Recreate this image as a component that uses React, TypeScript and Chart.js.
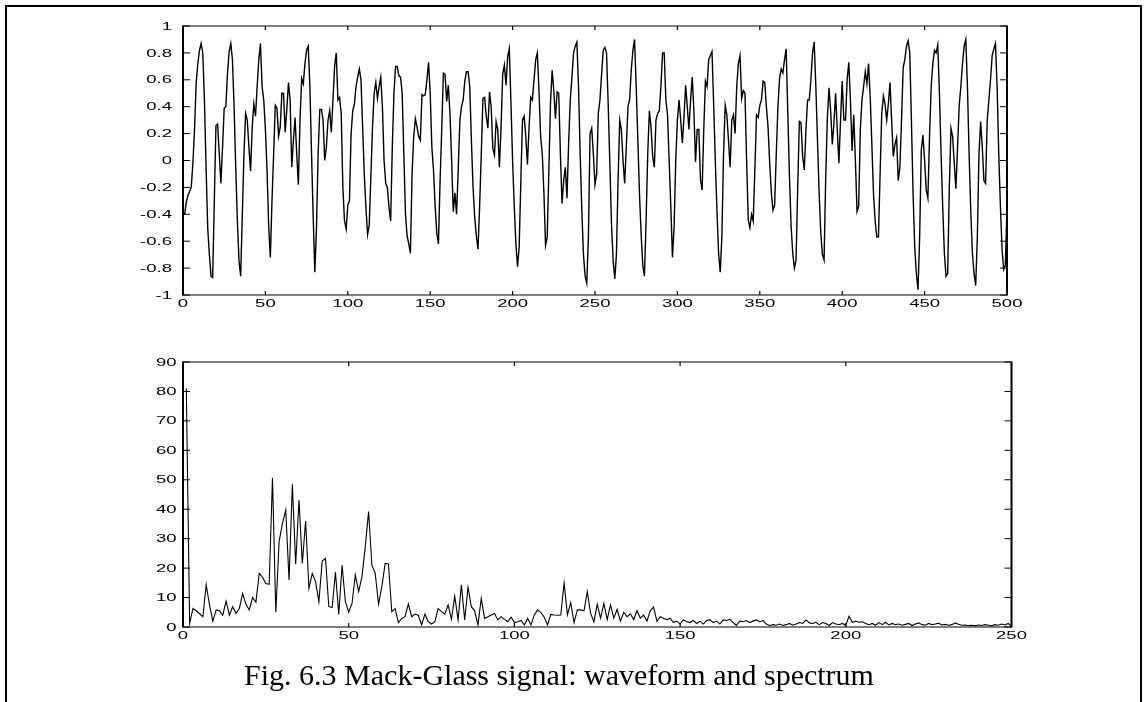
import React, { useEffect, useRef } from "react";
import { Chart, registerables } from "chart.js";

Chart.register(...registerables);

// Mackey-Glass time series, samples 1..500
const waveform: number[] = [
  -0.40, -0.31, -0.26, -0.23, -0.20, -0.02, 0.23, 0.58, 0.72, 0.82,
  0.87, 0.80, 0.45, -0.05, -0.50, -0.70, -0.86, -0.87, -0.30, 0.26,
  0.27, 0.05, -0.17, 0.10, 0.39, 0.40, 0.65, 0.81, 0.87, 0.75,
  0.40, -0.05, -0.45, -0.75, -0.86, -0.40, 0.05, 0.35, 0.30, 0.10,
  -0.08, 0.25, 0.42, 0.33, 0.55, 0.75, 0.87, 0.55, 0.45, 0.23,
  -0.07, -0.49, -0.72, -0.30, 0.05, 0.41, 0.39, 0.18, 0.25, 0.50,
  0.50, 0.21, 0.38, 0.58, 0.45, -0.05, 0.15, 0.32, 0.05, -0.18,
  0.30, 0.61, 0.57, 0.72, 0.82, 0.85, 0.55, 0.05, -0.42, -0.83,
  -0.50, 0.05, 0.38, 0.38, 0.30, 0.00, 0.10, 0.30, 0.37, 0.21,
  0.45, 0.70, 0.80, 0.45, 0.47, 0.35, -0.20, -0.45, -0.51, -0.33,
  -0.30, 0.20, 0.37, 0.42, 0.55, 0.62, 0.68, 0.60, 0.25, -0.10,
  -0.35, -0.55, -0.48, -0.12, 0.25, 0.50, 0.58, 0.46, 0.55, 0.62,
  0.40, 0.00, -0.17, -0.20, -0.35, -0.45, 0.10, 0.50, 0.70, 0.70,
  0.63, 0.62, 0.50, 0.05, -0.40, -0.56, -0.62, -0.69, -0.10, 0.18,
  0.31, 0.25, 0.18, 0.15, 0.49, 0.48, 0.49, 0.60, 0.73, 0.50,
  0.10, -0.07, -0.34, -0.54, -0.62, -0.15, 0.23, 0.65, 0.64, 0.44,
  0.56, 0.35, 0.00, -0.38, -0.24, -0.40, -0.07, 0.30, 0.40, 0.45,
  0.59, 0.66, 0.66, 0.55, 0.15, -0.20, -0.42, -0.56, -0.66, -0.34,
  0.05, 0.46, 0.47, 0.33, 0.24, 0.51, 0.40, 0.09, 0.04, 0.29,
  0.23, -0.05, 0.25, 0.64, 0.71, 0.56, 0.77, 0.83, 0.43, 0.00,
  -0.34, -0.62, -0.79, -0.64, -0.15, 0.30, 0.33, 0.18, -0.03, 0.25,
  0.47, 0.45, 0.60, 0.75, 0.80, 0.52, 0.18, 0.05, -0.24, -0.63,
  -0.57, -0.07, 0.43, 0.67, 0.52, 0.31, 0.51, 0.50, 0.05, -0.32,
  -0.15, -0.05, -0.28, 0.13, 0.45, 0.62, 0.80, 0.85, 0.88, 0.55,
  0.05, -0.37, -0.70, -0.86, -0.91, -0.57, 0.20, 0.24, 0.05, -0.18,
  -0.10, 0.35, 0.45, 0.64, 0.82, 0.84, 0.80, 0.42, -0.02, -0.47,
  -0.74, -0.88, -0.70, -0.15, 0.30, 0.23, 0.00, -0.17, 0.10, 0.40,
  0.45, 0.67, 0.82, 0.90, 0.55, 0.15, -0.25, -0.55, -0.78, -0.86,
  -0.45, 0.05, 0.37, 0.25, 0.03, -0.05, 0.30, 0.35, 0.37, 0.55,
  0.80, 0.80, 0.45, 0.34, 0.00, -0.34, -0.72, -0.49, 0.00, 0.30,
  0.45, 0.30, 0.13, 0.32, 0.56, 0.40, 0.23, 0.45, 0.62, 0.37,
  -0.01, 0.23, 0.23, -0.14, -0.22, 0.23, 0.59, 0.55, 0.75, 0.78,
  0.81, 0.42, 0.00, -0.37, -0.69, -0.83, -0.56, 0.05, 0.41, 0.34,
  0.15, -0.05, 0.30, 0.34, 0.20, 0.55, 0.72, 0.78, 0.46, 0.52,
  0.50, 0.00, -0.44, -0.50, -0.40, -0.45, -0.07, 0.34, 0.32, 0.41,
  0.45, 0.59, 0.58, 0.40, 0.25, -0.02, -0.24, -0.37, -0.33, 0.05,
  0.40, 0.61, 0.68, 0.65, 0.75, 0.83, 0.35, -0.12, -0.49, -0.69,
  -0.80, -0.74, -0.20, 0.29, 0.28, 0.03, -0.07, 0.23, 0.45, 0.45,
  0.60, 0.80, 0.88, 0.55, 0.15, -0.24, -0.54, -0.70, -0.74, -0.12,
  0.32, 0.54, 0.37, 0.12, 0.28, 0.50, 0.23, -0.02, 0.30, 0.59,
  0.30, 0.30, 0.60, 0.73, 0.45, 0.07, 0.34, 0.00, -0.38, -0.34,
  0.23, 0.45, 0.55, 0.66, 0.57, 0.72, 0.47, 0.12, -0.25, -0.45,
  -0.57, -0.57, -0.10, 0.35, 0.48, 0.42, 0.30, 0.42, 0.58, 0.30,
  0.03, 0.12, 0.17, -0.15, -0.05, 0.30, 0.69, 0.75, 0.85, 0.89,
  0.80, 0.30, -0.24, -0.64, -0.84, -0.96, -0.57, 0.08, 0.19, 0.00,
  -0.22, -0.28, 0.18, 0.55, 0.72, 0.82, 0.80, 0.86, 0.50, 0.05,
  -0.35, -0.69, -0.86, -0.84, -0.20, 0.24, 0.18, -0.02, -0.21, 0.10,
  0.41, 0.55, 0.72, 0.85, 0.90, 0.55, 0.05, -0.37, -0.69, -0.84,
  -0.93, -0.57, 0.05, 0.29, 0.10, -0.15, -0.17, 0.30, 0.45, 0.60,
  0.78, 0.83, 0.87, 0.55, 0.05, -0.34, -0.66, -0.81, -0.78, -0.35,
];

// Magnitude spectrum, bins 1..250
const spectrum: number[] = [
  81, 1.2, 6.3, 5.5, 4.5, 3.5, 14.3, 7.5, 2.0, 5.8,
  5.5, 4.0, 8.8, 4.0, 6.9, 4.6, 6.3, 11.4, 7.7, 5.8,
  10.0, 8.4, 18.2, 16.9, 14.8, 14.5, 50.7, 5.0, 29.0, 35.2,
  39.7, 16.0, 48.5, 21.3, 43.1, 21.6, 36.0, 13.1, 18.2, 15.4,
  8.6, 22.4, 23.3, 6.9, 6.6, 18.6, 4.3, 21.0, 8.6, 5.0,
  8.0, 17.7, 12.0, 17.1, 27.3, 39.2, 21.0, 18.2, 7.8, 13.7,
  21.6, 21.4, 5.2, 6.3, 1.5, 2.9, 3.5, 7.8, 3.5, 4.4,
  4.0, 0.7, 4.4, 1.8, 1.0, 1.8, 6.3, 5.2, 4.4, 7.5,
  2.6, 10.5, 2.4, 14.3, 2.4, 13.5, 6.9, 5.5, 0.7, 9.7,
  2.9, 3.5, 4.1, 4.6, 2.4, 3.5, 2.6, 1.8, 3.3, 1.5,
  1.8, 2.2, 0.7, 2.9, 0.7, 4.1, 5.8, 4.9, 3.3, 0.7,
  4.3, 4.1, 4.0, 4.1, 15.0, 4.1, 8.3, 1.5, 5.8, 5.8,
  5.5, 12.0, 4.6, 1.8, 7.7, 3.0, 8.0, 2.5, 7.5, 3.0,
  6.0, 2.0, 5.0, 3.5, 4.5, 2.5, 5.5, 3.0, 4.0, 2.0,
  5.5, 6.8, 2.0, 3.5, 3.0, 2.5, 3.0, 1.5, 2.0, 1.0,
  2.5, 1.8, 1.5, 2.2, 1.2, 2.0, 1.0, 2.2, 2.5, 1.5,
  2.0, 1.0, 2.4, 2.2, 2.6, 1.5, 0.5, 2.0, 1.8, 2.2,
  1.5, 2.0, 2.4, 1.8, 2.2, 1.0, 0.5, 0.8, 0.6, 1.0,
  0.5, 0.8, 1.2, 0.6, 1.0, 1.5, 1.2, 2.4, 1.4, 1.2,
  1.6, 0.8, 1.5, 1.2, 0.5, 1.5, 1.0, 0.8, 1.2, 0.5,
  3.7, 1.5, 2.0, 1.6, 1.8, 1.2, 0.8, 1.2, 0.6, 1.5,
  0.8, 1.6, 0.7, 1.2, 0.8, 1.0, 0.6, 0.9, 1.2, 0.5,
  1.0, 1.4, 0.8, 0.6, 1.2, 0.8, 1.0, 1.3, 0.7, 0.9,
  0.6, 0.8, 1.4, 0.9, 0.6, 0.7, 0.5, 0.6, 0.4, 0.7,
  0.5, 0.8, 0.6, 0.4, 0.8, 0.6, 1.0, 0.7, 1.2, 0.3,
];

const waveTicksX: number[] = [0, 50, 100, 150, 200, 250, 300, 350, 400, 450, 500];
const waveTicksY: number[] = [-1, -0.8, -0.6, -0.4, -0.2, 0, 0.2, 0.4, 0.6, 0.8, 1];
const specTicksX: number[] = [0, 50, 100, 150, 200, 250];
const specTicksY: number[] = [0, 10, 20, 30, 40, 50, 60, 70, 80, 90];

const caption = "Fig. 6.3 Mack-Glass signal: waveform and spectrum";

const LABEL_FONT = '10px "Liberation Sans", Arial, Helvetica, sans-serif';
const LABEL_STRETCH = 1.85;

type AxisStyle = {
  xTicks: number[];
  yTicks: number[];
  yLabelGap: number;
  xLabelDrop: number;
};

const fmt = (v: number) => String(Math.round(v * 10) / 10);

function stretchedText(ctx: CanvasRenderingContext2D, text: string, x: number, y: number, align: CanvasTextAlign) {
  ctx.save();
  ctx.translate(x, y);
  ctx.scale(LABEL_STRETCH, 1);
  ctx.textAlign = align;
  ctx.textBaseline = "alphabetic";
  ctx.fillText(text, 0, 0);
  ctx.restore();
}

// Boxed axes with inward ticks on all four sides
function boxedAxes(style: AxisStyle) {
  return {
    id: "boxedAxes",
    afterDatasetsDraw(chart: any) {
      const { ctx, chartArea: a } = chart;
      const xs = chart.scales.x;
      const ys = chart.scales.y;
      ctx.save();
      ctx.strokeStyle = "#000";
      ctx.lineCap = "butt";

      ctx.lineWidth = 2;
      ctx.beginPath();
      ctx.moveTo(a.left, a.top - 0.6);
      ctx.lineTo(a.left, a.bottom + 0.6);
      ctx.moveTo(a.right, a.top - 0.6);
      ctx.lineTo(a.right, a.bottom + 0.6);
      ctx.stroke();

      ctx.lineWidth = 1.2;
      ctx.beginPath();
      ctx.moveTo(a.left, a.top);
      ctx.lineTo(a.right, a.top);
      ctx.moveTo(a.left, a.bottom);
      ctx.lineTo(a.right, a.bottom);
      for (const v of style.xTicks) {
        const px = xs.getPixelForValue(v);
        ctx.moveTo(px, a.bottom);
        ctx.lineTo(px, a.bottom - 4);
        ctx.moveTo(px, a.top);
        ctx.lineTo(px, a.top + 4);
      }
      ctx.stroke();

      ctx.lineWidth = 1;
      ctx.beginPath();
      for (const v of style.yTicks) {
        const py = ys.getPixelForValue(v);
        ctx.moveTo(a.left, py);
        ctx.lineTo(a.left + 7, py);
        ctx.moveTo(a.right, py);
        ctx.lineTo(a.right - 7, py);
      }
      ctx.stroke();

      ctx.fillStyle = "#000";
      ctx.font = LABEL_FONT;
      for (const v of style.xTicks) {
        stretchedText(ctx, fmt(v), xs.getPixelForValue(v), a.bottom + style.xLabelDrop, "center");
      }
      for (const v of style.yTicks) {
        stretchedText(ctx, fmt(v), a.left - style.yLabelGap, ys.getPixelForValue(v) + 3.6, "right");
      }
      ctx.restore();
    },
  };
}

function LinePanel(props: {
  width: number;
  height: number;
  top: number;
  values: number[];
  xMin: number;
  xMax: number;
  yMin: number;
  yMax: number;
  padding: { left: number; top: number; right: number; bottom: number };
  lineWidth: number;
  style: AxisStyle;
}) {
  const ref = useRef<HTMLCanvasElement | null>(null);
  useEffect(() => {
    if (!ref.current) return;
    const chart = new Chart(ref.current, {
      type: "line",
      data: {
        datasets: [
          {
            data: props.values.map((v, i) => ({ x: i + 1, y: v })),
            borderColor: "#000",
            borderWidth: props.lineWidth,
            pointRadius: 0,
            tension: 0,
            fill: false,
          },
        ],
      },
      options: {
        animation: false,
        responsive: false,
        maintainAspectRatio: false,
        events: [],
        layout: { padding: props.padding },
        plugins: { legend: { display: false }, tooltip: { enabled: false } },
        scales: {
          x: { type: "linear", min: props.xMin, max: props.xMax, display: false },
          y: { type: "linear", min: props.yMin, max: props.yMax, display: false },
        },
      },
      plugins: [boxedAxes(props.style)],
    } as any);
    return () => chart.destroy();
  }, []);
  return (
    <canvas
      ref={ref}
      width={props.width}
      height={props.height}
      style={{ position: "absolute", left: 0, top: props.top, width: props.width, height: props.height }}
    />
  );
}

export default function App() {
  return (
    <div
      style={{
        position: "fixed",
        left: 0,
        top: 0,
        width: 1147,
        height: 702,
        overflow: "hidden",
        background: "#fff",
      }}
    >
      <div
        style={{
          position: "absolute",
          left: 5,
          top: 5,
          width: 1137,
          height: 760,
          border: "2px solid #000",
          boxSizing: "border-box",
        }}
      />
      <LinePanel
        width={1147}
        height={330}
        top={0}
        values={waveform}
        xMin={0}
        xMax={500}
        yMin={-1}
        yMax={1}
        padding={{ left: 183, top: 26, right: 140, bottom: 35 }}
        lineWidth={1.4}
        style={{ xTicks: waveTicksX, yTicks: waveTicksY, yLabelGap: 11, xLabelDrop: 12 }}
      />
      <LinePanel
        width={1147}
        height={372}
        top={330}
        values={spectrum}
        xMin={0}
        xMax={250}
        yMin={0}
        yMax={90}
        padding={{ left: 183, top: 32, right: 135.5, bottom: 75 }}
        lineWidth={1.1}
        style={{ xTicks: specTicksX, yTicks: specTicksY, yLabelGap: 6.5, xLabelDrop: 11.5 }}
      />
      <div
        style={{
          position: "absolute",
          left: 559,
          top: 660,
          transform: "translateX(-50%)",
          whiteSpace: "nowrap",
          fontFamily: '"Liberation Serif", "Times New Roman", serif',
          fontSize: 30,
          lineHeight: "30px",
          color: "#000",
        }}
      >
        {caption}
      </div>
    </div>
  );
}
